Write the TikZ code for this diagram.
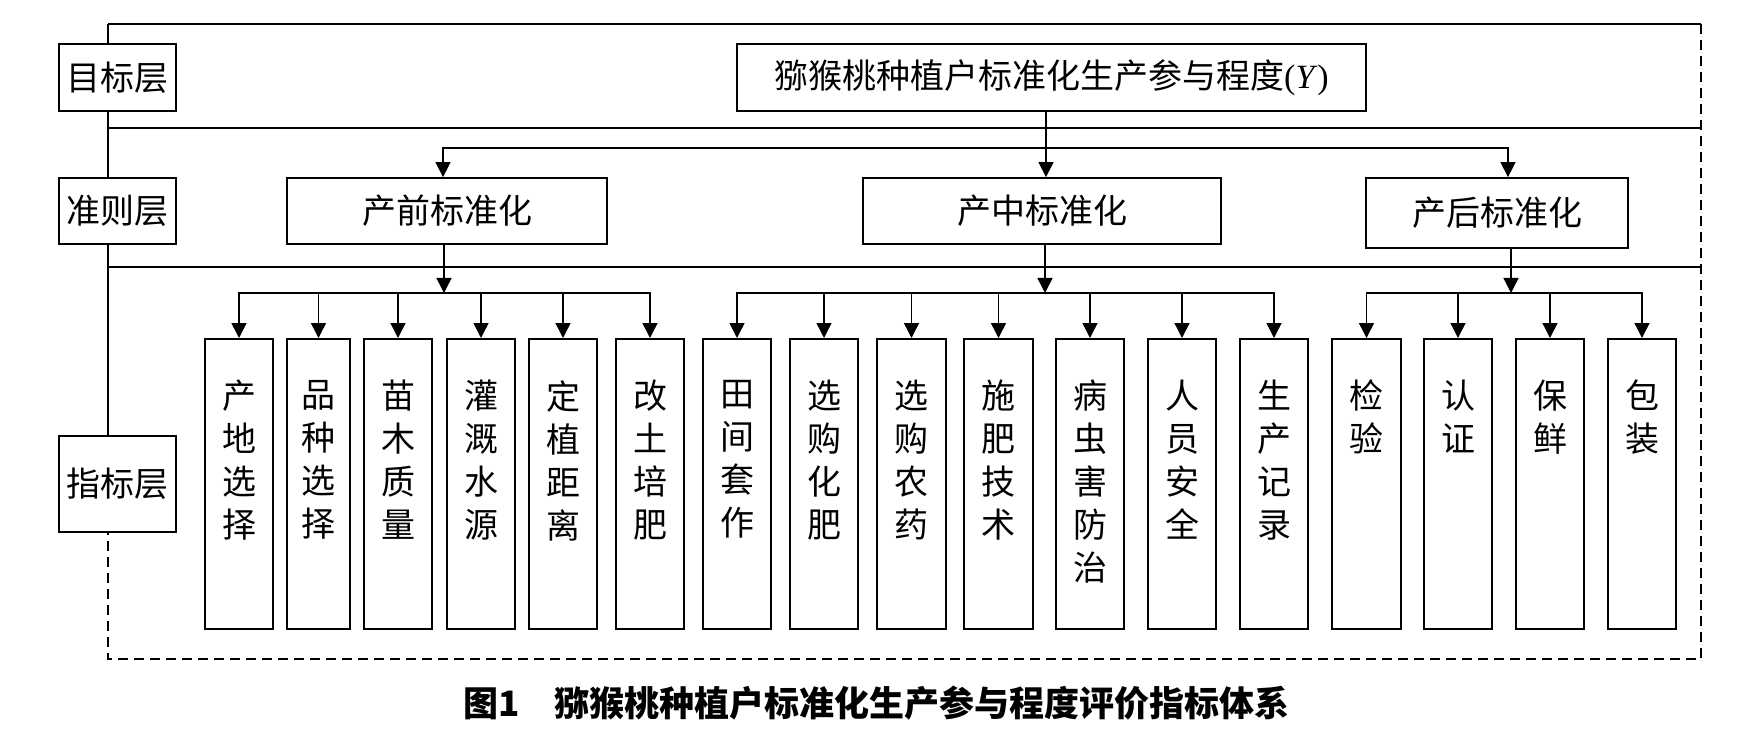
\documentclass[tikz,border=0pt]{standalone}
\usepackage{fontspec}
\setmainfont{Liberation Serif}
\newfontfamily\cjk{Noto Sans CJK SC}
\usetikzlibrary{arrows.meta}
\begin{document}
\begin{tikzpicture}[x=1pt,y=-1pt,
  every node/.style={inner sep=0pt},
  conn/.style={line width=1.5pt, line cap=rect},
  arr/.style={line width=1.5pt, -{Triangle[length=15pt,width=15pt]}},
  frameline/.style={line width=1.4pt},
  dashline/.style={line width=1.5pt, dash pattern=on 10pt off 6pt},
  lay/.style={draw, line width=2.4pt, fill=white, minimum width=117pt, minimum height=#1,
    font=\cjk\fontsize{34}{40}\selectfont},
  topbox/.style={draw, line width=2.4pt, fill=white, minimum width=629pt, minimum height=67pt,
    font=\cjk\fontsize{34}{40}\selectfont},
  crit/.style={draw, line width=1.8pt, fill=white, minimum height=#1,
    font=\cjk\fontsize{34}{40}\selectfont},
  ibox/.style={draw, line width=2pt, fill=white, minimum height=290pt},
  itext/.style={anchor=north, align=center, font=\cjk\fontsize{34}{43}\selectfont},
  captext/.style={anchor=west, font=\cjk\bfseries\fontsize{35}{40}\selectfont}
]
\useasboundingbox (0,0) rectangle (1740,751);

% frame corners
\coordinate (fTL) at (108,24);
\coordinate (fTR) at (1701,24);
\coordinate (fBR) at (1701,659);
\coordinate (fBL) at (108,659);

% layer label boxes
\node[lay=67pt] (lay1) at (117.5,77.5) {目标层};
\node[lay=66pt] (lay2) at (117.5,211) {准则层};
\node[lay=96pt] (lay3) at (117.5,484) {指标层};

% frame and separators
\draw[frameline] (fTL) -- (fTR);
\draw[dashline] (fTR) -- (fBR) -- (fBL) -- (lay3.south -| fBL);
\draw[frameline] (fTL) -- (lay1.north -| fTL);
\draw[frameline] (lay1.south -| fTL) -- (lay2.north -| fTL);
\draw[frameline] (lay2.south -| fTL) -- (lay3.north -| fTL);
\draw[line width=2.4pt] (108,128) -- (1701,128);
\draw[frameline] (108,267) -- (1701,267);

% goal
\node[topbox] (top) at (1051.5,77.5) {猕猴桃种植户标准化生产参与程度{\rmfamily(\textit{Y})}};

% criteria
\node[crit=66pt, minimum width=320pt] (c1) at (447,211) {产前标准化};
\node[crit=66pt, minimum width=358pt] (c2) at (1042,211) {产中标准化};
\node[crit=70pt, minimum width=262pt] (c3) at (1497,213) {产后标准化};

\coordinate (k1) at (443,148);
\coordinate (k2) at (1046,148);
\coordinate (k3) at (1508,148);
\draw[conn] (k1) -- (k3);
\draw[arr] (k1) -- (k1 |- c1.north);
\draw[arr] (k2 |- top.south) -- (k2 |- c2.north);
\draw[arr] (k3) -- (k3 |- c3.north);

% indicators
\foreach \n/\x/\w/\t in {
  1/239/68/{产\\地\\选\\择},
  2/318.5/63/{品\\种\\选\\择},
  3/398/68/{苗\\木\\质\\量},
  4/481/68/{灌\\溉\\水\\源},
  5/563/68/{定\\植\\距\\离},
  6/650/68/{改\\土\\培\\肥},
  7/737/68/{田\\间\\套\\作},
  8/824/68/{选\\购\\化\\肥},
  9/911.5/69/{选\\购\\农\\药},
  10/998.5/69/{施\\肥\\技\\术},
  11/1090/68/{病\\虫\\害\\防\\治},
  12/1182/68/{人\\员\\安\\全},
  13/1274/68/{生\\产\\记\\录},
  14/1366.5/69/{检\\验},
  15/1458/68/{认\\证},
  16/1550/68/{保\\鲜},
  17/1642/68/{包\\装}}{
  \node[ibox, minimum width=\w pt] (i\n) at (\x,484) {};
  \node[itext] (t\n) at (\x,380) {\t};
}

\coordinate (bus) at (0,293);
\coordinate (g1) at (444,293);
\coordinate (g2) at (1045,293);
\coordinate (g3) at (1511,293);
\draw[arr] (g1 |- c1.south) -- (g1);
\draw[arr] (g2 |- c2.south) -- (g2);
\draw[arr] (g3 |- c3.south) -- (g3);
\draw[conn] (i1.north |- bus) -- (i6.north |- bus);
\draw[conn] (i7.north |- bus) -- (i13.north |- bus);
\draw[conn] (i14.north |- bus) -- (i17.north |- bus);
\foreach \k in {1,...,17}{
  \draw[arr] (i\k.north |- bus) -- (i\k.north);
}

% caption
\node[captext] (cap) at (463,703) {图1\hspace{1em}猕猴桃种植户标准化生产参与程度评价指标体系};
\end{tikzpicture}
\end{document}
